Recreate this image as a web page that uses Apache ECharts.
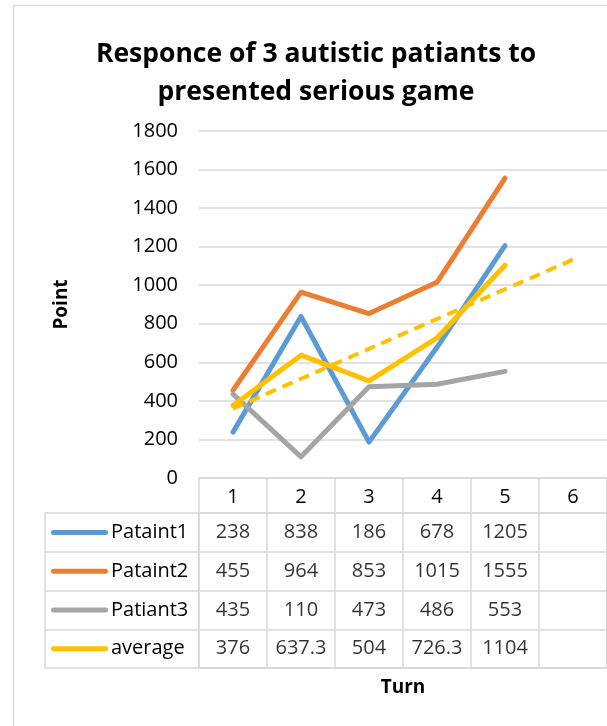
<!DOCTYPE html>
<html>
<head>
<meta charset="utf-8">
<style>
  html, body { margin: 0; padding: 0; background: #fff; }
  #chart { width: 607px; height: 726px; }
</style>
<script src="https://cdn.jsdelivr.net/npm/echarts@6/dist/echarts.min.js"></script>
</head>
<body>
<div id="chart"></div>
<script>
const turns = ['1', '2', '3', '4', '5', '6'];
const patient1 = [238, 838, 186, 678, 1205];
const patient2 = [455, 964, 853, 1015, 1555];
const patient3 = [435, 110, 473, 486, 553];
const average = [376, 637.3, 504, 726.3, 1104];
// linear trendline of the average
const averageTrend = [360, 515, 670, 825, 979, 1133];
const rowNames = ['Pataint1', 'Pataint2', 'Patiant3', 'average'];
const yTicks = { min: 0, max: 1800, step: 200 };

const colors = ['#5B9BD5', '#ED7D31', '#A5A5A5', '#FFC000'];
const rows = [patient1, patient2, patient3, average];
const font = "'Open Sans', 'Liberation Sans', sans-serif";
const lineGray = '#d9d9d9';

const chart = echarts.init(document.getElementById('chart'));

// table cells: one invisible point per value, label shows the number
const cells = [];
rows.forEach((vals, r) => {
  vals.forEach((v, c) => cells.push([c, r, v]));
});

const rich = {};
colors.forEach((col, i) => {
  rich['k' + i] = { width: 57, height: 5, backgroundColor: col, borderRadius: 3 };
});
rich.n = { fontSize: 20, color: '#000', fontFamily: font, padding: [0, 0, 0, 3] };

const lineSeries = (name, data, color) => ({
  name: name,
  type: 'line',
  data: data,
  symbol: 'none',
  xAxisIndex: 0,
  yAxisIndex: 0,
  lineStyle: { width: 5, color: color, cap: 'round', join: 'round' },
  silent: true
});

const option = {
  backgroundColor: '#fff',
  animation: false,
  title: {
    text: 'Responce of 3 autistic patiants to\npresented serious game',
    left: 311,
    top: 30,
    textAlign: 'center',
    textStyle: { fontFamily: font, fontSize: 26.5, fontWeight: 'bold', color: '#000', lineHeight: 38 }
  },
  graphic: [{
    type: 'rect',
    shape: { x: 13.5, y: 5.5, width: 700, height: 760 },
    style: { fill: 'none', stroke: lineGray, lineWidth: 1.5 },
    z: -1
  }],
  grid: [
    { left: 199, right: 0, top: 131, bottom: 248 },
    { left: 199, right: 0, top: 513, bottom: 58, show: true, borderColor: lineGray, borderWidth: 1.5 }
  ],
  xAxis: [{
    gridIndex: 0,
    type: 'category',
    data: turns,
    axisLine: { lineStyle: { color: lineGray, width: 1.5 } },
    axisTick: { show: true, length: 35, lineStyle: { color: lineGray, width: 1.5 } },
    axisLabel: { fontFamily: font, fontSize: 20, color: '#000', margin: 9 }
  }, {
    gridIndex: 1,
    type: 'category',
    data: turns,
    name: 'Turn',
    nameLocation: 'middle',
    nameGap: 10,
    nameTextStyle: { fontFamily: font, fontSize: 19, fontWeight: 'bold', color: '#000', verticalAlign: 'top' },
    axisLine: { show: false },
    axisTick: { show: false },
    axisLabel: { show: false },
    splitLine: { show: true, lineStyle: { color: lineGray, width: 1.5 } }
  }],
  yAxis: [{
    gridIndex: 0,
    type: 'value',
    min: yTicks.min,
    max: yTicks.max,
    interval: yTicks.step,
    name: 'Point',
    nameLocation: 'middle',
    nameGap: 128,
    nameRotate: 90,
    nameTextStyle: { fontFamily: font, fontSize: 19, fontWeight: 'bold', color: '#000' },
    axisLine: { show: false },
    axisTick: { show: false },
    axisLabel: { fontFamily: font, fontSize: 20, color: '#000', margin: 21, formatter: (v) => String(v) },
    splitLine: { lineStyle: { color: lineGray, width: 1.5 } }
  }, {
    gridIndex: 1,
    type: 'category',
    inverse: true,
    data: rowNames,
    axisLine: { show: false },
    axisTick: { show: true, length: 154, lineStyle: { color: lineGray, width: 1.5 } },
    axisLabel: {
      margin: 148,
      align: 'left',
      formatter: (v, i) => '{k' + i + '|}{n|' + v + '}',
      rich: rich
    },
    splitLine: { show: true, lineStyle: { color: lineGray, width: 1.5 } }
  }, {
    gridIndex: 1,
    type: 'category',
    inverse: true,
    data: rowNames,
    position: 'left',
    offset: 154,
    axisLine: { show: true, lineStyle: { color: lineGray, width: 1.5 } },
    axisTick: { show: false },
    axisLabel: { show: false }
  }],
  series: [
    lineSeries('Pataint1', patient1, colors[0]),
    lineSeries('Pataint2', patient2, colors[1]),
    lineSeries('Patiant3', patient3, colors[2]),
    lineSeries('average', average, colors[3]),
    {
      name: 'Linear (average)',
      type: 'line',
      data: averageTrend,
      symbol: 'none',
      lineStyle: { width: 4, color: colors[3], type: [11, 7] },
      silent: true
    },
    {
      name: 'table',
      type: 'scatter',
      xAxisIndex: 1,
      yAxisIndex: 1,
      data: cells,
      symbolSize: 1,
      itemStyle: { color: 'transparent' },
      label: {
        show: true,
        position: 'inside',
        formatter: (p) => String(p.value[2]),
        fontFamily: font,
        fontSize: 20,
        color: '#000'
      },
      silent: true
    }
  ]
};

chart.setOption(option);
</script>
</body>
</html>
